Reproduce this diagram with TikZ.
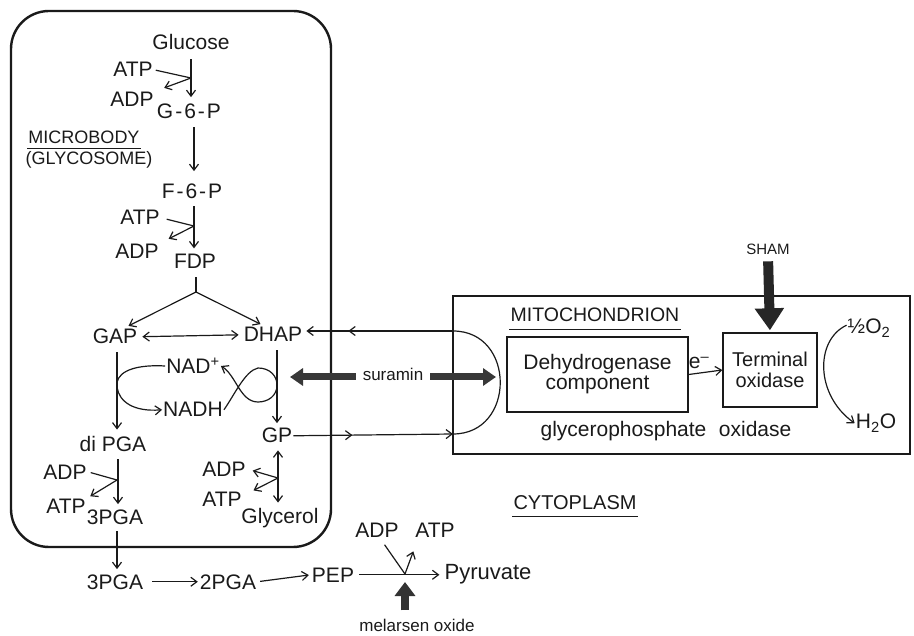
\documentclass[tikz,border=0pt]{standalone}
\usepackage{fontspec}
\setmainfont{Liberation Sans}
\usetikzlibrary{arrows.meta,decorations.markings}
\definecolor{ink}{HTML}{1A1A1A}
\begin{document}
\begin{tikzpicture}[x=1pt,y=-1pt,
  lbl/.style={font=\fontsize{21}{22}\selectfont, inner sep=1pt, text=ink, anchor=base},
  sml/.style={font=\fontsize{18}{20}\selectfont, inner sep=1pt, text=ink, anchor=base},
  tiny/.style={font=\fontsize{17}{19}\selectfont, inner sep=1pt, text=ink, anchor=base},
  ln/.style={draw=ink, line width=1.2pt},
  arr/.style={draw=ink, line width=1.2pt, -{Straight Barb[length=6pt,width=9pt]}},
  dbl/.style={draw=ink, line width=1.2pt, {Straight Barb[length=6pt,width=9pt]}-{Straight Barb[length=6pt,width=9pt]}},
  midarr/.style={postaction={decorate}, decoration={markings, mark=at position #1 with {\arrow[ink,line width=1.2pt]{Straight Barb[length=6pt,width=9pt]}}}},
  surarr/.style={draw=black!78, line width=7pt, -{Triangle[length=13pt,width=17pt]}},
  shamarr/.style={draw=black!85, line width=10pt, -{Triangle[length=22pt,width=28pt]}},
  melarr/.style={draw=black!80, line width=8pt, -{Triangle[length=14pt,width=20pt]}},
  enzbox/.style={draw=ink, line width=1.4pt, inner sep=2pt, align=center, text=ink}
]
\useasboundingbox (0,0) rectangle (914,636);

% compartments
\draw[draw=ink, line width=2.4pt, rounded corners=38pt] (11,11) rectangle (331,547);
\draw[draw=ink, line width=2.8pt] (453,296) rectangle (910,454);

% labels - microbody
\node[lbl] (glc) at (191,50) {Glucose};
\node[lbl] (atp1) at (133,77) {ATP};
\node[lbl] (adp1) at (132,107) {ADP};
\node[lbl] (g6p) at (189,119) {G\kern2pt-\kern2pt6\kern2pt-\kern2ptP};
\node[sml] (mb) at (84,144) {MICROBODY};
\node[sml] (gly) at (89,165) {(GLYCOSOME)};
\node[lbl] (f6p) at (192,199) {F\kern2pt-\kern2pt6\kern2pt-\kern2ptP};
\node[lbl] (atp2) at (140,225) {ATP};
\node[lbl] (adp2) at (137,259) {ADP};
\node[lbl] (fdp) at (195,269) {FDP};
\node[lbl] (gap) at (115,344) {GAP};
\node[lbl] (dhap) at (273,342) {DHAP};
\node[lbl] (nad) at (193,374) {NAD\textsuperscript{+}};
\node[lbl] (nadh) at (193,417) {NADH};
\node[lbl] (dipga) at (113,452) {di PGA};
\node[lbl] (gp) at (277,443) {GP};
\node[lbl] (adp3) at (65,479) {ADP};
\node[lbl] (atp3) at (66,514) {ATP};
\node[lbl] (pgaA) at (115,525) {3PGA};
\node[lbl] (adp4) at (224,477) {ADP};
\node[lbl] (atp4) at (222,507) {ATP};
\node[lbl] (glyc) at (280,524) {Glycerol};

% cytoplasm
\node[lbl] (pgaB) at (115,589) {3PGA};
\node[lbl] (pga2) at (228,589) {2PGA};
\node[lbl] (pep) at (333,582) {PEP};
\node[lbl, font=\fontsize{22}{23}\selectfont] (pyr) at (488,579) {Pyruvate};
\node[lbl] (adp5) at (377,537) {ADP};
\node[lbl] (atp5) at (435,537) {ATP};
\node[tiny] (mel) at (417,631) {melarsen oxide};
\node[lbl, font=\fontsize{20}{21}\selectfont] (cyto) at (575,509) {CYTOPLASM};
\node[tiny] (sur) at (393,381) {suramin};

% mitochondrion
\node[lbl, font=\fontsize{19.5}{21}\selectfont] (mito) at (595,322) {MITOCHONDRION};
\node[enzbox, minimum width=181pt, minimum height=75pt, font=\fontsize{21}{20}\selectfont] (dh) at (597.5,374.5) {Dehydrogenase\\component};
\node[enzbox, minimum width=94pt, minimum height=74pt, font=\fontsize{20}{21}\selectfont] (term) at (770,370) {Terminal\\oxidase};
\node[lbl] (el) at (699,369) {e\textsuperscript{--}};
\node[tiny, font=\fontsize{15}{17}\selectfont] (sham) at (768,255) {SHAM};
\node[lbl] (o2) at (869,334) {½O\textsubscript{2}};
\node[lbl] (h2o) at (876,429) {H\textsubscript{2}O};
\node[lbl] (gpo) at (666,437) {glycerophosphate\hspace{0.6em}oxidase};

\coordinate (m1) at (453,331);
\coordinate (m2) at (453,434);
\coordinate (j1) at (191,78);
\coordinate (j2) at (194,226);
\coordinate (fj) at (196,292);
\coordinate (j3) at (278,478);
\coordinate (j4) at (117,480);
\coordinate (j5) at (405,574);
\coordinate (sl) at (290,377);
\coordinate (sr) at (496,377);

% underlines
\draw[ln] ([yshift=-3pt]mb.south west) -- ([yshift=-3pt]mb.south east);
\draw[ln] ([yshift=-6pt]mito.south west) -- ([yshift=-6pt]mito.south east);
\draw[ln] ([yshift=-6pt]cyto.south west) -- ([yshift=-6pt]cyto.south east);

% glycolysis in microbody
\draw[arr, shorten <=8pt, shorten >=6pt] (glc.south) -- (glc.south |- g6p.north);
\draw[ln, shorten <=2pt] (atp1.east) -- (j1);
\draw[arr, shorten >=10pt] (j1) -- (adp1.north east);
\draw[arr, shorten <=7pt, shorten >=12pt] (g6p.south -| j2) -- (j2 |- f6p.north);
\draw[arr, shorten <=6pt, shorten >=5pt] (f6p.south -| j2) -- (j2 |- fdp.north);
\draw[ln, shorten <=6pt] (atp2.east) -- (j2);
\draw[arr, shorten >=10pt] (j2) -- (adp2.north east);
\draw[ln, shorten <=7pt] (fdp.south -| fj) -- (fj);
\draw[arr, shorten >=5pt] (fj) -- ([xshift=9pt]gap.north);
\draw[arr, shorten >=5pt] (fj) -- ([xshift=-8pt]dhap.north);
\draw[dbl, shorten <=4pt, shorten >=4pt] (gap.east) -- (dhap.west);
\draw[arr, shorten <=7pt, shorten >=6pt] ([xshift=2pt]gap.south) -- ([xshift=2pt]gap.south |- dipga.north);
\draw[arr, shorten <=7pt, shorten >=4pt] (gp.north |- dhap.south) -- (gp.north);
% NAD cycles
\draw[arr] (nad.west) .. controls (128,364) and (115,375) .. (117,387)
  .. controls (119,402) and (134,412) .. (nadh.west);
\draw[arr] (nadh.east) .. controls (235,394) and (245,371) .. (258,368)
  .. controls (270,368) and (277,376) .. (277,385)
  .. controls (277,396) and (268,402) .. (258,402)
  .. controls (240,402) and (236,375) .. (nad.east);
% lower microbody
\draw[arr, shorten <=6pt, shorten >=5pt] ([xshift=5pt]dipga.south) -- ([xshift=5pt]dipga.south |- pgaA.north);
\draw[ln, shorten <=3pt] (adp3.east) -- (j4);
\draw[arr, shorten >=4pt] (j4) -- (atp3.north east);
\draw[dbl, shorten <=6pt, shorten >=5pt] (gp.south -| j3) -- (j3 |- glyc.north);
\draw[arr, shorten >=3pt] (j3) -- ([xshift=3pt]adp4.east);
\draw[arr, shorten >=3pt] (j3) -- ([xshift=8pt,yshift=8pt]atp4.east);
\draw[arr, shorten <=5pt, shorten >=4pt] ([xshift=2pt]pgaA.south) -- ([xshift=2pt]pgaA.south |- pgaB.north);
% cytoplasm chain
\draw[arr, shorten <=8pt, shorten >=1pt] (pgaB.east) -- (pga2.west);
\draw[arr, shorten <=3pt, shorten >=2pt] (pga2.east) -- (pep.west);
\draw[arr, shorten <=4pt, shorten >=4pt] (pep.east) -- (pyr.west |- pep.east);
\draw[ln, shorten <=8pt] ([xshift=3pt]adp5.south) -- (j5);
\draw[arr, shorten >=14pt] (j5) -- ([xshift=4pt]atp5.south west);
\draw[melarr, shorten <=7pt, shorten >=8pt] (mel.north -| j5) -- (j5);

% shuttle
\draw[arr, midarr=0.7, shorten >=3pt] (m1) -- (dhap.east |- m1);
\draw[arr, midarr=0.37] (gp.east) -- (m2);
\draw[draw=ink, line width=1.2pt] (m1) .. controls (516,331) and (516,434) .. (m2);
\draw[surarr, shorten <=6pt] (sur.west |- sl) -- (sl);
\draw[surarr, shorten <=6pt] (sur.east |- sr) -- (sr);

% mitochondrial chain
\draw[arr] (dh.east) -- (term.west);
\draw[shamarr, shorten <=5pt, shorten >=2pt] (sham.south) -- (term.north);
\draw[arr] ([yshift=3pt]o2.west) .. controls (815,340) and (815,395) .. (h2o.west);
\end{tikzpicture}
\end{document}
